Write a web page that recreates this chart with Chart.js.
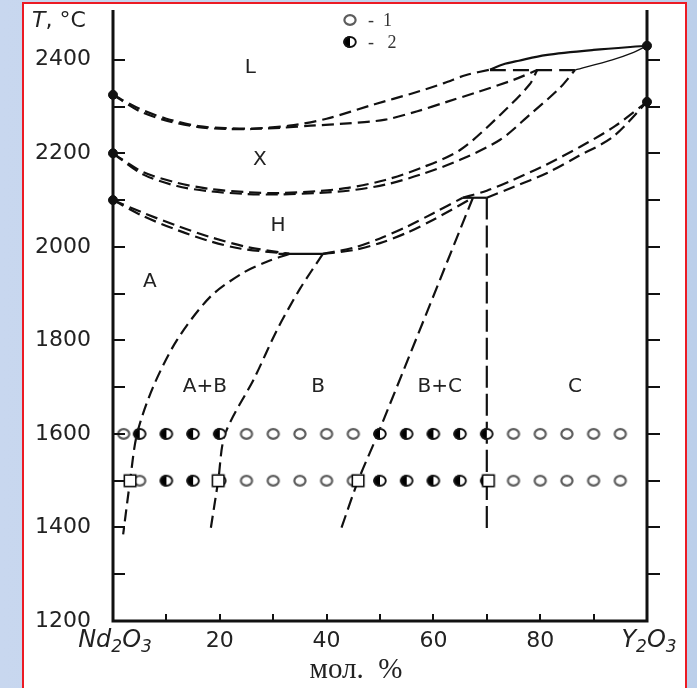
<!DOCTYPE html>
<html>
<head>
<meta charset="utf-8">
<title>Nd2O3 - Y2O3</title>
<script src="https://cdn.jsdelivr.net/npm/chart.js@4.4.1/dist/chart.umd.min.js"></script>
<style>
  html, body { margin: 0; padding: 0; }
  body {
    width: 697px; height: 688px; overflow: hidden; position: relative;
    background: linear-gradient(to right, #c8d7ef, #bccfea);
  }
  #frame {
    position: absolute; left: 22px; top: 2px; width: 665px; height: 700px;
    box-sizing: border-box; background: #fff; border: 2px solid #ec1b24;
  }
  #chart { position: absolute; left: 0; top: 0; }
</style>
</head>
<body>
<div id="frame"></div>
<canvas id="chart" width="697" height="688"></canvas>
<script>
// [mol. % Y2O3, T °C]
const liquidusDashed = [[0, 2325], [5, 2295], [10, 2274], [16, 2258], [21, 2254], [26, 2253], [33, 2259], [40, 2274], [49, 2305], [56, 2328], [62, 2350], [66, 2367], [70.6, 2379]];
const liquidusSolid = [[70.6, 2379], [73, 2390], [76, 2398], [81, 2410], [90, 2421], [100, 2430]];
const solidusX = [[0, 2325], [5, 2290], [10, 2270], [16, 2256], [21, 2252], [26, 2252], [32, 2255], [37, 2259], [44, 2264], [51, 2272], [57, 2290], [62.5, 2310], [68, 2330], [75, 2357], [79.4, 2378]];
const peritectic = [[70.6, 2378], [86.5, 2378]];
const solidusC = [[86.5, 2378], [93.5, 2400], [97.5, 2416], [100, 2430]];

const xhUpper = [[0, 2200], [5.6, 2160], [12, 2137], [18, 2124], [25, 2117], [31, 2115], [38, 2119], [44, 2126], [51, 2143], [58, 2170], [65, 2207], [72.5, 2282], [78, 2347], [79.4, 2377]];
const xhLower = [[0, 2200], [5.6, 2155], [12, 2130], [18, 2119], [25, 2113], [31, 2112], [38, 2115], [44, 2120], [51, 2133], [58, 2156], [65, 2186], [72.5, 2229], [78, 2282], [83.7, 2340], [86.5, 2378]];

const haUpper = [[0, 2100], [5.6, 2073], [12, 2045], [18.2, 2021], [25, 2000], [33, 1985]];
const haLower = [[0, 2100], [5.6, 2066], [12, 2036], [18.2, 2012], [24, 1996], [33, 1985]];
const eutectoidH = [[31, 1985], [39.3, 1985]];

const hbUpper = [[39.3, 1985], [45, 1998], [50, 2018], [55, 2043], [60, 2072], [65.5, 2105]];
const hbLower = [[39.3, 1985], [45, 1993], [50, 2008], [55, 2030], [60, 2058], [67.4, 2105]];
const eutectoidC = [[65.5, 2105], [70, 2105]];

const hcUpper = [[65.5, 2105], [70, 2120], [74.9, 2143], [81, 2175], [87.5, 2214], [94, 2258], [100, 2310]];
const hcLower = [[70, 2105], [75, 2128], [81.3, 2158], [87, 2193], [93.6, 2235], [100, 2310]];

const solvusA = [[33, 1985], [28.8, 1968], [24.3, 1944], [18.2, 1893], [12, 1801], [7.5, 1700], [4.5, 1600], [3.2, 1500], [1.9, 1385]];
const solvusBLeft = [[39.3, 1985], [35, 1910], [30.7, 1822], [26.5, 1720], [21, 1600], [19.7, 1500], [18.2, 1390]];
const solvusBRight = [[67.4, 2105], [49.6, 1600], [45.9, 1500], [42.5, 1390]];
const solvusC = [[70, 2105], [70, 1390]];

// quenched samples: 1 - single phase, 2 - two phases
const comps1600 = [2, 5, 10, 15, 20, 25, 30, 35, 40, 45, 50, 55, 60, 65, 70, 75, 80, 85, 90, 95];
const phases1600 = [1, 2, 2, 2, 2, 1, 1, 1, 1, 1, 2, 2, 2, 2, 2, 1, 1, 1, 1, 1];
const comps1500 = [5, 10, 15, 20, 25, 30, 35, 40, 45, 50, 55, 60, 65, 70, 75, 80, 85, 90, 95];
const phases1500 = [1, 2, 2, 2, 1, 1, 1, 1, 1, 2, 2, 2, 2, 2, 1, 1, 1, 1, 1];
const bounds1500 = [3.2, 19.7, 45.9, 70.3];

const fixedPoints = [[0, 2325], [0, 2200], [0, 2100], [100, 2430], [100, 2310]];

const yTicks = [1200, 1400, 1600, 1800, 2000, 2200, 2400];
const xTicks = [0, 20, 40, 60, 80, 100];
// end members of the system, drawn with real subscripts
const xEnds = { 0: [['Nd', 0], ['2', 1], ['O', 0], ['3', 1]], 100: [['Y', 0], ['2', 1], ['O', 0], ['3', 1]] };

const fields = [
  ['L', 25.7, 2383], ['X', 27.5, 2187], ['H', 30.9, 2046], ['A', 6.9, 1926],
  ['A+B', 17.2, 1700], ['B', 38.4, 1700], ['B+C', 61.2, 1700], ['C', 86.5, 1700]
];

const SANS = '"DejaVu Sans", sans-serif';
const SERIF = '"Liberation Serif", "DejaVu Serif", serif';
const INK = '#111';

function marker(kind) {
  const c = document.createElement('canvas');
  c.width = 18; c.height = 18;
  const g = c.getContext('2d');
  const cx = 9, cy = 9;
  if (kind === 'square') {
    g.fillStyle = '#fff';
    g.fillRect(cx - 6, cy - 6, 12, 12);
    g.strokeStyle = '#000';
    g.lineWidth = 1.5;
    g.strokeRect(cx - 5.75, cy - 5.75, 11.5, 11.5);
    return c;
  }
  const rx = 6.7, ry = 5.9;
  g.beginPath();
  g.ellipse(cx, cy, rx, ry, 0, 0, Math.PI * 2);
  g.fillStyle = '#fff';
  g.fill();
  if (kind === 'half') {
    g.beginPath();
    g.ellipse(cx, cy, rx, ry, 0, Math.PI / 2, Math.PI * 1.5);
    g.closePath();
    g.fillStyle = '#000';
    g.fill();
    g.beginPath();
    g.ellipse(cx, cy, rx - 0.9, ry - 0.9, 0, 0, Math.PI * 2);
    g.strokeStyle = '#111';
    g.lineWidth = 1.9;
    g.stroke();
  } else {
    g.beginPath();
    g.ellipse(cx, cy, rx - 1.1, ry - 1.1, 0, 0, Math.PI * 2);
    g.strokeStyle = '#5c5c5c';
    g.lineWidth = 2.2;
    g.stroke();
  }
  return c;
}

const openMark = marker('open');
const halfMark = marker('half');
const squareMark = marker('square');

const pts = arr => arr.map(([x, y]) => ({ x, y }));

function curve(arr, dash, width) {
  return {
    data: pts(arr),
    showLine: true,
    borderColor: INK,
    borderWidth: width || 2.2,
    borderDash: dash || [],
    tension: 0.3,
    pointRadius: 0,
    pointHoverRadius: 0,
    fill: false,
    order: 3
  };
}

function samples(comps, phases, temp) {
  return {
    data: comps.map(c => ({ x: c, y: temp })),
    pointStyle: phases.map(p => (p === 2 ? halfMark : openMark)),
    showLine: false,
    order: 2
  };
}

const DASH = [12, 6];

const datasets = [
  curve(liquidusDashed, DASH),
  curve(liquidusSolid, [], 2.2),
  curve(solidusX, DASH),
  curve(peritectic, [16, 7]),
  curve(solidusC, [], 1.3),
  curve(xhUpper, DASH),
  curve(xhLower, DASH),
  curve(haUpper, DASH),
  curve(haLower, DASH),
  curve(eutectoidH, [], 2.2),
  curve(hbUpper, DASH),
  curve(hbLower, DASH),
  curve(eutectoidC, [], 2.2),
  curve(hcUpper, DASH),
  curve(hcLower, DASH),
  curve(solvusA, DASH),
  curve(solvusBLeft, DASH),
  curve(solvusBRight, [13, 6]),
  curve(solvusC, [22, 6]),
  samples(comps1600, phases1600, 1600),
  samples(comps1500, phases1500, 1500),
  {
    data: bounds1500.map(c => ({ x: c, y: 1500 })),
    pointStyle: squareMark,
    showLine: false,
    order: 1
  },
  {
    data: pts(fixedPoints),
    pointStyle: 'circle',
    pointRadius: 4.5,
    backgroundColor: INK,
    borderColor: INK,
    showLine: false,
    clip: false,
    order: 0
  }
];

function formula(ctx, parts, cx, base) {
  const main = 'italic 24px ' + SANS, sub = 'italic 17px ' + SANS;
  let w = 0;
  parts.forEach(([s, low]) => { ctx.font = low ? sub : main; w += ctx.measureText(s).width; });
  let px = cx - w / 2;
  parts.forEach(([s, low]) => {
    ctx.font = low ? sub : main;
    ctx.fillText(s, px, low ? base + 5 : base);
    px += ctx.measureText(s).width;
  });
}

// axes frame, inner ticks and the text put straight on the plot
const decorations = {
  id: 'decorations',
  afterDraw(chart) {
    const { ctx, chartArea: a, scales: { x, y } } = chart;
    ctx.save();
    ctx.strokeStyle = INK;
    ctx.lineCap = 'butt';
    ctx.lineWidth = 3;
    ctx.beginPath();
    ctx.moveTo(a.left, a.top - 3);
    ctx.lineTo(a.left, a.bottom);
    ctx.lineTo(a.right, a.bottom);
    ctx.lineTo(a.right, a.top - 3);
    ctx.stroke();

    ctx.lineWidth = 2;
    ctx.beginPath();
    for (let t = 1300; t <= 2400; t += 100) {
      const py = Math.round(y.getPixelForValue(t));
      ctx.moveTo(a.left, py);
      ctx.lineTo(a.left + 12, py);
      ctx.moveTo(a.right, py);
      ctx.lineTo(a.right + 13, py);
    }
    for (let v = 10; v < 100; v += 10) {
      const px = Math.round(x.getPixelForValue(v));
      ctx.moveTo(px, a.bottom);
      ctx.lineTo(px, a.bottom - 7);
    }
    ctx.stroke();

    ctx.fillStyle = '#222';
    ctx.textAlign = 'center';
    ctx.textBaseline = 'middle';
    ctx.font = '20px ' + SANS;
    fields.forEach(([txt, cx, t]) => {
      ctx.fillText(txt, x.getPixelForValue(cx), y.getPixelForValue(t));
    });

    ctx.textAlign = 'left';
    ctx.textBaseline = 'alphabetic';
    Object.keys(xEnds).forEach(v => formula(ctx, xEnds[v], x.getPixelForValue(+v) + 2, 647));

    // axis captions
    ctx.font = 'italic 22px ' + SANS;
    ctx.fillText('T', 32, 27);
    const w = ctx.measureText('T').width;
    ctx.font = '22px ' + SANS;
    ctx.fillText(', °C', 32 + w, 27);
    ctx.textAlign = 'center';
    ctx.font = '29px ' + SERIF;
    ctx.fillText('мол.  %', 356, 678);

    // legend
    ctx.textAlign = 'left';
    ctx.drawImage(openMark, 350 - openMark.width / 2, 20 - openMark.height / 2);
    ctx.drawImage(halfMark, 350 - halfMark.width / 2, 42 - halfMark.height / 2);
    ctx.font = '18px ' + SERIF;
    ctx.fillStyle = '#333';
    ctx.fillText('-  1', 368, 26);
    ctx.fillText('-   2', 368, 48);
    ctx.restore();
  }
};

new Chart(document.getElementById('chart').getContext('2d'), {
  type: 'scatter',
  data: { datasets: datasets },
  options: {
    responsive: false,
    animation: false,
    events: [],
    layout: { padding: { top: 13, right: 50, left: 0, bottom: 0 } },
    plugins: {
      legend: { display: false },
      tooltip: { enabled: false }
    },
    scales: {
      x: {
        type: 'linear',
        min: 0,
        max: 100,
        afterFit: scale => {
          scale.height = 67;
          scale.paddingLeft = 0;
          scale.paddingRight = 0;
        },
        afterBuildTicks: scale => { scale.ticks = xTicks.map(v => ({ value: v })); },
        grid: { display: false, drawTicks: false },
        border: { display: false },
        ticks: {
          autoSkip: false,
          maxRotation: 0,
          padding: 7,
          color: '#222',
          font: { family: SANS, size: 22 },
          callback: v => (xEnds[v] ? '' : String(v))
        }
      },
      y: {
        type: 'linear',
        min: 1200,
        max: 2500,
        afterFit: scale => {
          scale.width = 113;
          scale.paddingTop = 0;
          scale.paddingBottom = 0;
        },
        afterBuildTicks: scale => { scale.ticks = yTicks.map(v => ({ value: v })); },
        grid: { display: false, drawTicks: false },
        border: { display: false },
        ticks: {
          padding: 22,
          color: '#222',
          font: { family: SANS, size: 22 },
          callback: v => String(v)
        }
      }
    }
  },
  plugins: [decorations]
});
</script>
</body>
</html>
